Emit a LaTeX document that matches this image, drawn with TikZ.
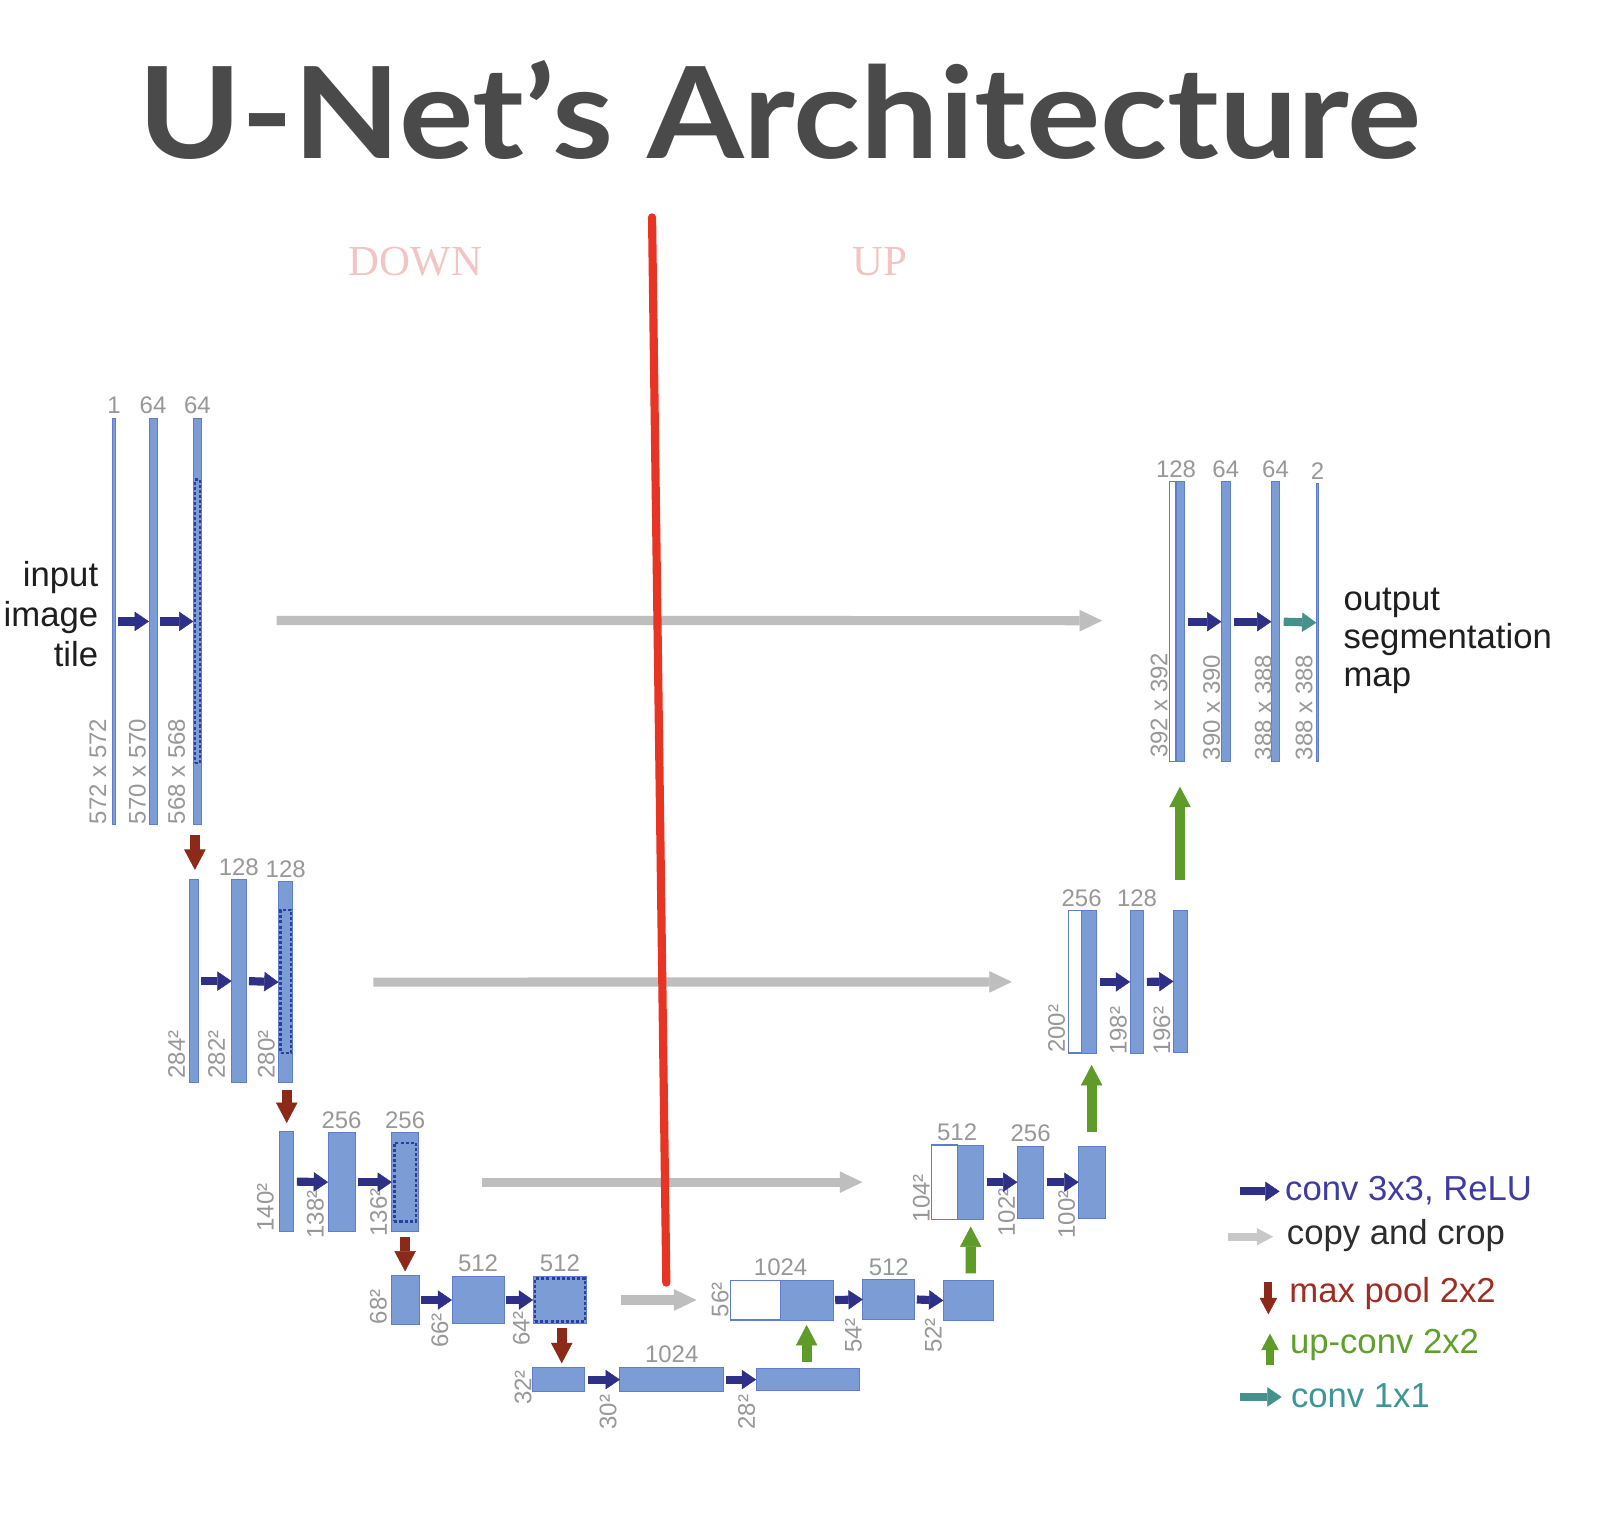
\documentclass[tikz,border=0pt]{standalone}
\usepackage{fontspec}
\usepackage{graphicx}
\setmainfont{Liberation Sans}
\newfontfamily\titlefont{Lato}
\newfontfamily\serifft{Liberation Serif}
\usetikzlibrary{arrows.meta,calc}
\definecolor{blk}{RGB}{124,156,214}
\definecolor{blkedge}{RGB}{95,125,205}
\definecolor{dashc}{RGB}{45,60,160}
\definecolor{convc}{RGB}{46,48,135}
\definecolor{copyc}{RGB}{190,190,190}
\definecolor{copylg}{RGB}{200,200,200}
\definecolor{poolc}{RGB}{140,42,25}
\definecolor{upc}{RGB}{95,155,40}
\definecolor{onec}{RGB}{70,145,140}
\definecolor{numc}{RGB}{152,152,152}
\definecolor{titlec}{RGB}{74,74,74}
\definecolor{pinkc}{RGB}{242,196,196}
\definecolor{redl}{RGB}{232,52,34}
\definecolor{convtxt}{RGB}{62,60,160}
\definecolor{copytxt}{RGB}{45,45,45}
\definecolor{pooltxt}{RGB}{160,45,35}
\definecolor{uptxt}{RGB}{95,160,45}
\definecolor{onetxt}{RGB}{60,150,150}
\definecolor{blacktxt}{RGB}{30,30,30}
\newcommand\Blk[6]{\node[#6, minimum width={(#4)-(#2)}, minimum height={(#5)-(#3)}] (#1) at ({((#2)+(#4))/2},{((#3)+(#5))/2}) {};}
\newcommand\TopLab[3]{\node[numst] (#1) at ($(#2)+(0,-4.5)$) {#3};}
\newcommand\RotLab[4]{\node[numrot] (#1) at (#2,#3) {#4};}
\begin{document}
\begin{tikzpicture}[x=1pt,y=-1pt,
  blkst/.style={draw=blkedge, line width=0.8pt, fill=blk, inner sep=0pt, outer sep=0pt},
  whst/.style={draw=blkedge, line width=1.2pt, fill=white, inner sep=0pt, outer sep=0pt},
  cropst/.style={draw=dashc, line width=2.2pt, dash pattern=on 3pt off 2pt, inner sep=0pt, outer sep=0pt},
  numst/.style={text=numc, font=\fontsize{23.5}{26}\selectfont, inner sep=0pt, anchor=base},
  numrot/.style={text=numc, font=\fontsize{23.5}{26}\selectfont, inner sep=0pt, rotate=90, anchor=west},
  bigtxt/.style={font=\fontsize{34}{38}\selectfont, inner sep=0pt},
  conv/.style={draw=convc, line width=8pt, -{Triangle[length=14pt,width=19pt,line width=0.5pt]}},
  onebyone/.style={draw=onec, line width=8pt, -{Triangle[length=14pt,width=19pt,line width=0.5pt]}},
  copyar/.style={draw=copyc, line width=9pt, -{Triangle[length=22pt,width=21pt,line width=0.5pt]}},
  copyleg/.style={draw=copylg, line width=8pt, -{Triangle[length=16pt,width=17pt,line width=0.5pt]}},
  pool/.style={draw=poolc, line width=10pt, -{Triangle[length=20pt,width=21pt,line width=0.5pt]}},
  upar/.style={draw=upc, line width=10pt, -{Triangle[length=20pt,width=21pt,line width=0.5pt]}},
  redline/.style={draw=redl, line width=8pt, line cap=round}
]
\fill[white] (0,0) rectangle (1568,1495.4);
\useasboundingbox (0,0) rectangle (1568,1495.4);

% title and headings
\node[anchor=base, inner sep=0pt, text=titlec] (title) at (764.5,155) {\resizebox{1257pt}{96pt}{\titlefont\bfseries U-Net’s Architecture}};
\node[anchor=base, inner sep=0pt, text=pinkc, font=\serifft\fontsize{42}{44}\selectfont] (down) at (407,269.5) {DOWN};
\node[anchor=base, inner sep=0pt, text=pinkc, font=\serifft\fontsize{42}{44}\selectfont] (up) at (862,269.5) {UP};

% ---------- contracting path ----------
\Blk{A1}{110.5}{410}{113}{808}{blkst}
\Blk{A2}{146}{410}{154}{808}{blkst}
\Blk{A3}{189.5}{410}{197.5}{808}{blkst}
\Blk{A3c}{191}{470}{196}{748}{cropst}
\Blk{B1}{186}{862}{194}{1061}{blkst}
\Blk{B2}{227}{862}{241}{1061}{blkst}
\Blk{B3}{273}{864}{287}{1061}{blkst}
\Blk{B3c}{275}{892}{285}{1032}{cropst}
\Blk{C1}{273.5}{1109}{288}{1207}{blkst}
\Blk{C2}{321.5}{1110}{348}{1207}{blkst}
\Blk{C3}{384}{1110}{410}{1207}{blkst}
\Blk{C3c}{386.5}{1120}{407.5}{1197}{cropst}
\Blk{D1}{384}{1250}{411}{1298}{blkst}
\Blk{D2}{443}{1251}{494}{1297}{blkst}
\Blk{D3}{522.5}{1251}{575}{1297}{blkst}
\Blk{D3c}{524.5}{1253}{573}{1295}{cropst}
\Blk{E1}{522}{1340}{573}{1364}{blkst}
\Blk{E2}{607.5}{1340}{709}{1364}{blkst}
\Blk{E3}{741}{1341}{842}{1363}{blkst}

% ---------- expanding path ----------
\Blk{U1w}{715.5}{1254.5}{765}{1293.5}{whst}
\Blk{U1}{765}{1254.5}{816.5}{1293.5}{blkst}
\Blk{U2}{845.5}{1254}{896.5}{1293}{blkst}
\Blk{U3}{924.5}{1255}{974}{1294}{blkst}
\Blk{V1w}{913}{1122}{938}{1195}{whst}
\Blk{V1}{938}{1122}{964}{1195}{blkst}
\Blk{V2}{997}{1123}{1023}{1194}{blkst}
\Blk{V3}{1057}{1123}{1083}{1194}{blkst}
\Blk{W1w}{1047}{892.5}{1060}{1032}{whst}
\Blk{W1}{1060}{892.5}{1074}{1032}{blkst}
\Blk{W2}{1107.5}{892.5}{1121}{1032}{blkst}
\Blk{W3}{1150}{892.5}{1163.5}{1031}{blkst}
\Blk{X1w}{1146}{472}{1152.5}{746.5}{whst}
\Blk{X1}{1152.5}{472}{1161}{746.5}{blkst}
\Blk{X2}{1197}{472}{1205.5}{746.5}{blkst}
\Blk{X3}{1246}{472}{1254}{746.5}{blkst}
\Blk{X4}{1290}{474}{1292.5}{746.5}{blkst}

% ---------- channel labels ----------
\TopLab{tA1}{A1.north}{1}
\TopLab{tA2}{A2.north}{64}
\TopLab{tA3}{A3.north}{64}
\TopLab{tB2}{B2.north}{128}
\TopLab{tB3}{B3.north}{128}
\TopLab{tC2}{C2.north}{256}
\TopLab{tC3}{C3.north}{256}
\TopLab{tD2}{D2.north}{512}
\TopLab{tD3}{D3.north}{512}
\TopLab{tE2}{E2.north}{1024}
\TopLab{tU1}{U1w.north east}{1024}
\TopLab{tU2}{U2.north}{512}
\TopLab{tV1}{V1w.north east}{512}
\TopLab{tV2}{V2.north}{256}
\TopLab{tW1}{W1w.north east}{256}
\TopLab{tW2}{W2.north}{128}
\TopLab{tX1}{X1w.north east}{128}
\TopLab{tX2}{X2.north}{64}
\TopLab{tX3}{X3.north}{64}
\TopLab{tX4}{X4.north}{2}

% ---------- size labels ----------
\RotLab{sA1}{96}{808}{572 x 572}
\RotLab{sA2}{134.6}{808}{570 x 570}
\RotLab{sA3}{173}{808}{568 x 568}
\RotLab{sB1}{173}{1057}{284²}
\RotLab{sB2}{212.3}{1057}{282²}
\RotLab{sB3}{261}{1057}{280²}
\RotLab{sC1}{260}{1207}{140²}
\RotLab{sC2}{309}{1214}{138²}
\RotLab{sC3}{371}{1212}{136²}
\RotLab{sD1}{370.7}{1298}{68²}
\RotLab{sD2}{431}{1321}{66²}
\RotLab{sD3}{511}{1319}{64²}
\RotLab{sE1}{512.6}{1377}{32²}
\RotLab{sE2}{596}{1401}{30²}
\RotLab{sE3}{731.7}{1401}{28²}
\RotLab{sU1}{705.6}{1291}{56²}
\RotLab{sU2}{836.3}{1326}{54²}
\RotLab{sU3}{914.7}{1326}{52²}
\RotLab{sV1}{903}{1198}{104²}
\RotLab{sV2}{986.5}{1212}{102²}
\RotLab{sV3}{1045.3}{1214}{100²}
\RotLab{sW1}{1035.5}{1032}{200²}
\RotLab{sW2}{1096}{1034}{198²}
\RotLab{sW3}{1138.5}{1034}{196²}
\RotLab{sX1}{1136}{743}{392 x 392}
\RotLab{sX2}{1187.4}{745}{390 x 390}
\RotLab{sX3}{1238}{745}{388 x 388}
\RotLab{sX4}{1278}{745}{388 x 388}

% ---------- conv 3x3 arrows ----------
\draw[conv] ([xshift=3pt]A1.east) -- (A2.west);
\draw[conv] ([xshift=3pt]A2.east) -- (A3.west);
\draw[conv] ([xshift=3pt]B1.east) -- (B2.west);
\draw[conv] ([xshift=3pt]B2.east) -- (B3.west);
\draw[conv] ([xshift=3pt]C1.east) -- (C2.west);
\draw[conv] ([xshift=3pt]C2.east) -- (C3.west);
\draw[conv] ([xshift=2pt]D1.east) -- (D2.west);
\draw[conv] ([xshift=2pt]D2.east) -- (D3.west);
\draw[conv] ([xshift=3pt]E1.east) -- (E2.west);
\draw[conv] ([xshift=2pt]E2.east) -- (E3.west);
\draw[conv] ([xshift=2pt]U1.east) -- (U2.west);
\draw[conv] ([xshift=2pt]U2.east) -- (U3.west);
\draw[conv] ([xshift=3pt]V1.east) -- (V2.west);
\draw[conv] ([xshift=3pt]V2.east) -- (V3.west);
\draw[conv] ([xshift=4pt]W1.east) -- (W2.west);
\draw[conv] ([xshift=3pt]W2.east) -- (W3.west);
\draw[conv] ([xshift=3.5pt]X1.east) -- (X2.west);
\draw[conv] ([xshift=4pt]X2.east) -- (X3.west);
\draw[onebyone] ([xshift=4pt]X3.east) -- (X4.west);

% ---------- max pool arrows ----------
\draw[pool] ($(A3.south)+(-2.5,10)$) -- ($(B1.north)+(1,-9.5)$);
\draw[pool] ($(B3.south)+(1,7)$) -- ($(C1.north)+(0.25,-8.5)$);
\draw[pool] ($(C3.south)+(0,5)$) -- ($(D1.north)+(-0.5,-4)$);
\draw[pool] ($(D3.south)+(1.75,4.6)$) -- ($(E1.north)+(3,-4)$);

% ---------- up-conv arrows ----------
\draw[upar] ($(E3.north)+(-1,-6.5)$) -- ($(U1.south)+(-0.25,5)$);
\draw[upar] ($(U3.north)+(2,-7)$) -- ($(V1.south)+(0.3,7)$);
\draw[upar] ($(V3.north)+(-0.2,-14)$) -- ($(W1.south)+(2.8,11.7)$);
\draw[upar] ($(W3.north)+(-0.35,-30)$) -- ($(X1.south)+(-0.35,24.5)$);

% ---------- copy and crop arrows ----------
\draw[copyar] ($(A3.east)+(73.5,-1)$) -- ($(X1w.west)+(-66,-1)$);
\draw[copyar] ($(B3.east)+(79,0)$) -- ($(W1w.west)+(-55.5,0)$);
\draw[copyar] ($(C3.east)+(62,0)$) -- ($(V1w.west)+(-68,0)$);
\draw[copyar] ($(D3.east)+(34,0)$) -- ($(U1w.west)+(-33,0)$);

% ---------- red divider ----------
\coordinate (rtop) at (639,213);
\coordinate (rbot) at (653,1257);
\draw[redline] (rtop) -- (rbot);

% ---------- input / output text ----------
\node[bigtxt, text=blacktxt, anchor=base east] (in1) at (96.4,575) {input};
\node[bigtxt, text=blacktxt, anchor=base east] (in2) at (96.4,614) {image};
\node[bigtxt, text=blacktxt, anchor=base east] (in3) at (96.4,653) {tile};
\node[bigtxt, text=blacktxt, anchor=base west] (out1) at (1316.5,597.8) {output};
\node[bigtxt, text=blacktxt, anchor=base west] (out2) at (1316.5,635.4) {segmentation};
\node[bigtxt, text=blacktxt, anchor=base west] (out3) at (1316.5,673) {map};

% ---------- legend ----------
\node[bigtxt, text=convtxt, anchor=base west] (lg1) at (1259.3,1176) {conv 3x3, ReLU};
\node[bigtxt, text=copytxt, anchor=base west] (lg2) at (1261,1220) {copy and crop};
\node[bigtxt, text=pooltxt, anchor=base west] (lg3) at (1263.4,1276.6) {max pool 2x2};
\node[bigtxt, text=uptxt, anchor=base west] (lg4) at (1264,1326) {up-conv 2x2};
\node[bigtxt, text=onetxt, anchor=base west] (lg5) at (1265,1379) {conv 1x1};
\coordinate (la1) at (1215,1167.5);  \coordinate (lb1) at (1254,1167.5);
\coordinate (la2) at (1203.5,1212);  \coordinate (lb2) at (1247.6,1212);
\coordinate (la3) at (1243,1256);    \coordinate (lb3) at (1243,1288);
\coordinate (la4) at (1244.6,1338);  \coordinate (lb4) at (1244.6,1307);
\coordinate (la5) at (1215,1369);    \coordinate (lb5) at (1256,1369);
\draw[conv] (la1) -- (lb1);
\draw[copyleg] (la2) -- (lb2);
\draw[draw=poolc, line width=8pt, -{Triangle[length=16pt,width=17pt,line width=0.5pt]}] (la3) -- (lb3);
\draw[draw=upc, line width=8pt, -{Triangle[length=16pt,width=17pt,line width=0.5pt]}] (la4) -- (lb4);
\draw[onebyone] (la5) -- (lb5);
\end{tikzpicture}
\end{document}
